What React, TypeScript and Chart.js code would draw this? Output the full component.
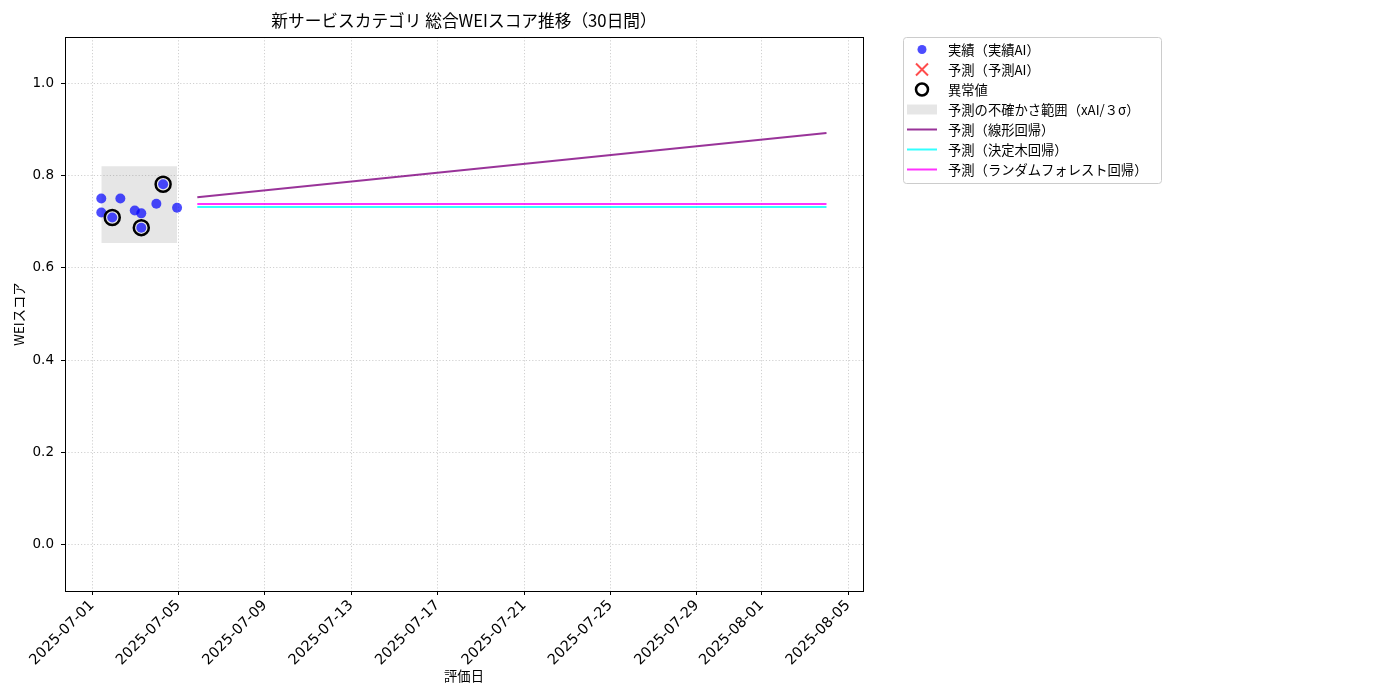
import { useEffect, useRef } from "react";
import { Chart, registerables } from "chart.js";

Chart.register(...registerables);

const FONT = "'Noto Sans CJK JP', 'Noto Sans', sans-serif";
const NUM_FONT = "'DejaVu Sans', 'Noto Sans', sans-serif";
const BASE_DATE = "2025-07-01T00:00:00";

// actual WEI scores (実績)
const actualDates = [
  "2025-07-01T10:20:00",
  "2025-07-01T10:20:00",
  "2025-07-01T22:30:00",
  "2025-07-02T07:30:00",
  "2025-07-02T23:30:00",
  "2025-07-03T06:45:00",
  "2025-07-03T06:45:00",
  "2025-07-03T23:30:00",
  "2025-07-04T07:00:00",
  "2025-07-04T22:30:00",
];
const actualScores = [0.75, 0.72, 0.709, 0.75, 0.724, 0.718, 0.687, 0.739, 0.781, 0.73];

// anomalies (異常値)
const anomalyDates = ["2025-07-01T22:30:00", "2025-07-03T06:45:00", "2025-07-04T07:00:00"];
const anomalyScores = [0.709, 0.687, 0.781];

// uncertainty band over the actual period
const bandDates = ["2025-07-01T10:20:00", "2025-07-04T22:30:00"];
const bandUpper = [0.82, 0.82];
const bandLower = [0.654, 0.654];

// 30-day forecasts (start / end)
const forecastDates = ["2025-07-05T21:00:00", "2025-08-04T00:00:00"];
const linearForecast = [0.753, 0.892];
const treeForecast = [0.732, 0.732];
const forestForecast = [0.738, 0.738];

const xTickLabels = [
  "2025-07-01", "2025-07-05", "2025-07-09", "2025-07-13", "2025-07-17",
  "2025-07-21", "2025-07-25", "2025-07-29", "2025-08-01", "2025-08-05",
];
const yTicks = [0.0, 0.2, 0.4, 0.6, 0.8, 1.0];

const toDay = (s: string) =>
  (Date.parse(s + "Z") - Date.parse(BASE_DATE + "Z")) / 86400000;
const pts = (dates: string[], vals: number[]) =>
  dates.map((d, i) => ({ x: toDay(d), y: vals[i] }));

const legendItems = [
  { kind: "dot", label: "実績（実績AI）" },
  { kind: "cross", label: "予測（予測AI）" },
  { kind: "ring", label: "異常値" },
  { kind: "rect", label: "予測の不確かさ範囲（xAI/３σ）" },
  { kind: "line", color: "rgba(128,0,128,0.8)", label: "予測（線形回帰）" },
  { kind: "line", color: "rgba(0,255,255,0.8)", label: "予測（決定木回帰）" },
  { kind: "line", color: "rgba(255,0,255,0.8)", label: "予測（ランダムフォレスト回帰）" },
];

const decorPlugin = {
  id: "decor",
  afterDraw(chart: Chart) {
    const { ctx, chartArea: a } = chart;
    ctx.save();
    // axes frame
    ctx.strokeStyle = "#000";
    ctx.lineWidth = 1;
    ctx.setLineDash([]);
    ctx.strokeRect(a.left + 0.5, a.top + 0.5, a.right - a.left, a.bottom - a.top);
    // title
    ctx.fillStyle = "#000";
    ctx.font = `16.7px ${FONT}`;
    ctx.textAlign = "center";
    ctx.textBaseline = "middle";
    ctx.fillText("新サービスカテゴリ 総合WEIスコア推移（30日間）", (a.left + a.right) / 2, 21);

    // legend
    const lx = a.right + 40;
    const ly = a.top;
    const w = 258;
    const h = 146;
    ctx.fillStyle = "rgba(255,255,255,0.8)";
    ctx.strokeStyle = "#cccccc";
    ctx.lineWidth = 1;
    ctx.beginPath();
    ctx.roundRect(lx + 0.5, ly + 0.5, w, h, 3);
    ctx.fill();
    ctx.stroke();
    ctx.font = `13.3px ${FONT}`;
    ctx.textAlign = "left";
    legendItems.forEach((it, i) => {
      const cy = ly + 12.5 + i * 20;
      const cx = lx + 19;
      if (it.kind === "dot") {
        ctx.fillStyle = "rgba(0,0,255,0.7)";
        ctx.beginPath();
        ctx.arc(cx, cy, 4.5, 0, Math.PI * 2);
        ctx.fill();
      } else if (it.kind === "cross") {
        ctx.strokeStyle = "rgba(255,0,0,0.7)";
        ctx.lineWidth = 2;
        ctx.beginPath();
        ctx.moveTo(cx - 6, cy - 6);
        ctx.lineTo(cx + 6, cy + 6);
        ctx.moveTo(cx + 6, cy - 6);
        ctx.lineTo(cx - 6, cy + 6);
        ctx.stroke();
      } else if (it.kind === "ring") {
        ctx.strokeStyle = "#000";
        ctx.lineWidth = 2.5;
        ctx.beginPath();
        ctx.arc(cx, cy, 6, 0, Math.PI * 2);
        ctx.stroke();
      } else if (it.kind === "rect") {
        ctx.fillStyle = "rgba(128,128,128,0.2)";
        ctx.fillRect(lx + 4, cy - 5, 30, 10);
      } else {
        ctx.strokeStyle = it.color as string;
        ctx.lineWidth = 2;
        ctx.beginPath();
        ctx.moveTo(lx + 4, cy);
        ctx.lineTo(lx + 34, cy);
        ctx.stroke();
      }
      ctx.fillStyle = "#000";
      ctx.textBaseline = "middle";
      ctx.fillText(it.label, lx + 45, cy);
    });
    ctx.restore();
  },
};

export default function App() {
  const chartRef = useRef<HTMLCanvasElement | null>(null);
  const chartInstance = useRef<Chart | null>(null);

  useEffect(() => {
    document.body.style.margin = "0";
    if (!chartRef.current) return;
    if (chartInstance.current) chartInstance.current.destroy();
    const ctx = chartRef.current.getContext("2d");
    if (!ctx) return;

    const xTickValues = xTickLabels.map((d) => toDay(d + "T00:00:00"));
    const gridOpts = {
      color: "#c4c4c4",
      lineWidth: 0.8,
      tickColor: "#000",
      tickLength: 4,
      tickWidth: 1,
      tickBorderDash: [],
    };

    chartInstance.current = new Chart(ctx, {
      type: "scatter",
      data: {
        datasets: [
          {
            label: "実績（実績AI）",
            data: pts(actualDates, actualScores),
            backgroundColor: "rgba(0,0,255,0.7)",
            borderWidth: 0,
            pointRadius: 5,
            order: 1,
          },
          {
            label: "予測（予測AI）",
            data: [],
            pointStyle: "crossRot",
            borderColor: "rgba(255,0,0,0.7)",
            pointRadius: 6,
            order: 2,
          },
          {
            label: "異常値",
            data: pts(anomalyDates, anomalyScores),
            backgroundColor: "rgba(0,0,0,0)",
            borderColor: "#000",
            borderWidth: 2.5,
            pointRadius: 7.5,
            order: 0,
          },
          {
            type: "line",
            label: "upper",
            data: pts(bandDates, bandUpper),
            borderWidth: 0,
            pointRadius: 0,
            backgroundColor: "rgba(128,128,128,0.2)",
            fill: "+1",
            order: 9,
          },
          {
            type: "line",
            label: "lower",
            data: pts(bandDates, bandLower),
            borderWidth: 0,
            pointRadius: 0,
            fill: false,
            order: 9,
          },
          {
            type: "line",
            label: "予測（線形回帰）",
            data: pts(forecastDates, linearForecast),
            borderColor: "rgba(128,0,128,0.8)",
            borderWidth: 2,
            pointRadius: 0,
            order: 5,
          },
          {
            type: "line",
            label: "予測（決定木回帰）",
            data: pts(forecastDates, treeForecast),
            borderColor: "rgba(0,255,255,0.8)",
            borderWidth: 2,
            pointRadius: 0,
            order: 5,
          },
          {
            type: "line",
            label: "予測（ランダムフォレスト回帰）",
            data: pts(forecastDates, forestForecast),
            borderColor: "rgba(255,0,255,0.8)",
            borderWidth: 2,
            pointRadius: 0,
            order: 4,
          },
        ],
      },
      options: {
        responsive: false,
        animation: false,
        layout: { padding: { left: 0, top: 37, right: 537, bottom: 0 } },
        plugins: {
          legend: { display: false },
          tooltip: { enabled: false },
        },
        scales: {
          x: {
            type: "linear",
            min: -1.25,
            max: 35.69,
            afterFit: (axis: any) => {
              axis.height = 109;
            },
            afterBuildTicks: (axis: any) => {
              axis.ticks = xTickValues.map((v) => ({ value: v }));
            },
            grid: gridOpts,
            border: { display: false, dash: [1.2, 2] },
            ticks: {
              autoSkip: false,
              minRotation: 45,
              maxRotation: 45,
              color: "#000",
              padding: 2,
              font: { family: NUM_FONT, size: 14.5 },
              callback: (v: any) => {
                const i = xTickValues.findIndex((t) => Math.abs(t - v) < 1e-6);
                return i >= 0 ? xTickLabels[i] : "";
              },
            },
            title: {
              display: true,
              text: "評価日",
              color: "#000",
              font: { family: FONT, size: 13.3 },
              padding: { top: 0, bottom: 16 },
            },
          },
          y: {
            min: -0.1,
            max: 1.1,
            afterFit: (axis: any) => {
              axis.width = 65;
            },
            afterBuildTicks: (axis: any) => {
              axis.ticks = yTicks.map((v) => ({ value: v }));
            },
            grid: gridOpts,
            border: { display: false, dash: [1.2, 2] },
            ticks: {
              color: "#000",
              padding: 7,
              font: { family: NUM_FONT, size: 13.5 },
              callback: (v: any) => Number(v).toFixed(1),
            },
            title: {
              display: true,
              text: "WEIスコア",
              color: "#000",
              font: { family: FONT, size: 13.3 },
              padding: { top: 11, bottom: 0 },
            },
          },
        },
      },
      plugins: [decorPlugin],
    } as any);

    return () => {
      if (chartInstance.current) {
        chartInstance.current.destroy();
        chartInstance.current = null;
      }
    };
  }, []);

  return (
    <div style={{ width: 1400, height: 700 }}>
      <canvas ref={chartRef} width={1400} height={700} />
    </div>
  );
}
